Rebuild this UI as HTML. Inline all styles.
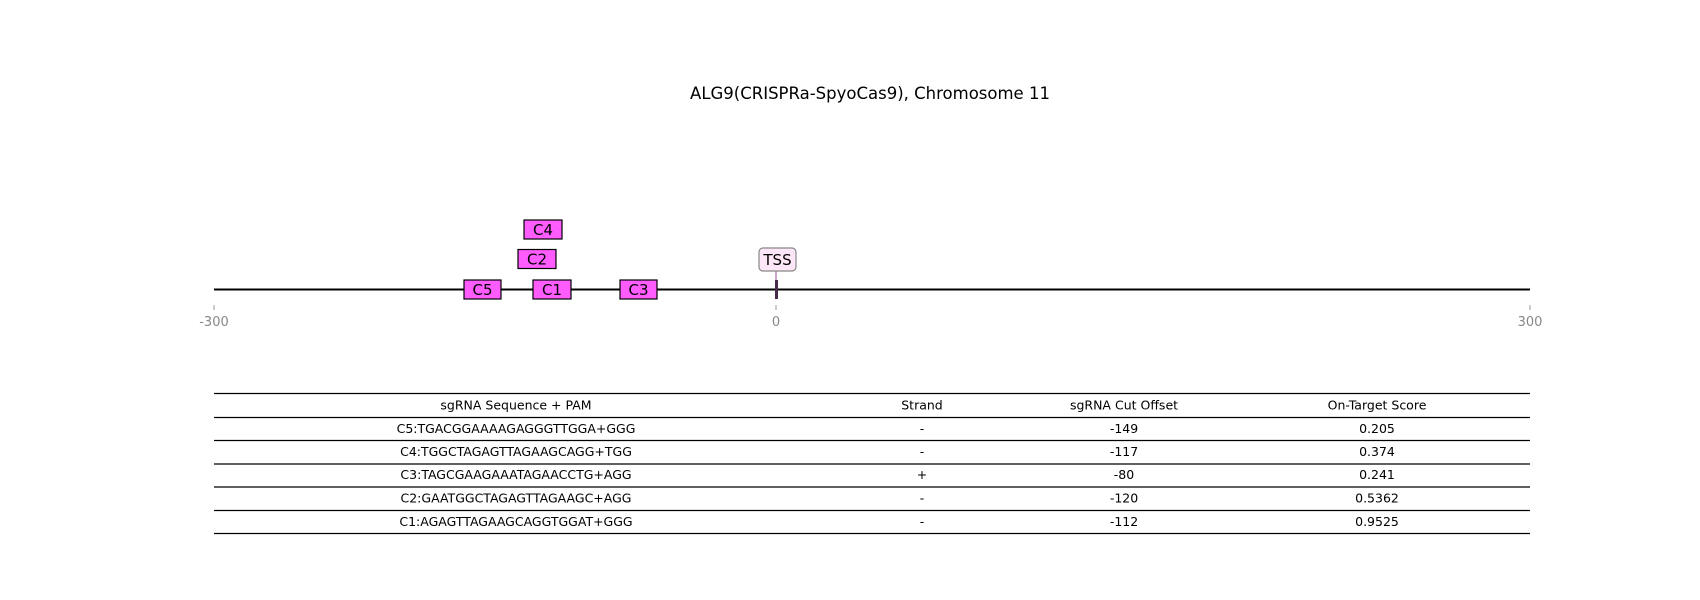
<!DOCTYPE html>
<html><head><meta charset="utf-8"><style>body{margin:0;background:#fff}svg{display:block}</style></head>
<body>
<svg width="1700" height="600" xmlns="http://www.w3.org/2000/svg" font-family="DejaVu Sans, Liberation Sans, sans-serif">
<text x="870" y="99" font-size="16.5" text-anchor="middle">ALG9(CRISPRa-SpyoCas9), Chromosome 11</text>
<line x1="214" y1="289.5" x2="1530" y2="289.5" stroke="#000" stroke-width="2"/>
<g stroke="#999" stroke-width="1"><line x1="214" y1="305" x2="214" y2="310"/><line x1="776" y1="305" x2="776" y2="310"/><line x1="1530" y1="305" x2="1530" y2="310"/></g>
<g fill="#888" font-size="13" text-anchor="middle"><text x="214" y="326">-300</text><text x="776" y="326">0</text><text x="1530" y="326">300</text></g>
<line x1="776" y1="271" x2="776" y2="282" stroke="#9b4f96" stroke-width="1"/>
<rect x="775" y="280" width="3" height="19" fill="#4a2a4a"/>
<rect x="759" y="248" width="37" height="23" rx="4" fill="#fde6f8" stroke="#888" stroke-width="1.2"/>
<text x="777.5" y="265" font-size="15" text-anchor="middle">TSS</text>
<g fill="#ff5cff" stroke="#000" stroke-width="1.2">
<rect x="464" y="280" width="37" height="19"/><rect x="533" y="280" width="38" height="19"/><rect x="620" y="280" width="37" height="19"/>
<rect x="518" y="249.5" width="38" height="19"/><rect x="524" y="220" width="38" height="19"/></g>
<g font-size="15" text-anchor="middle">
<text x="482.5" y="295">C5</text><text x="552" y="295">C1</text><text x="638.5" y="295">C3</text>
<text x="537" y="264.5">C2</text><text x="543" y="235">C4</text></g>
<g stroke="#000" stroke-width="1.3">
<line x1="214" y1="393.5" x2="1530" y2="393.5"/><line x1="214" y1="417.5" x2="1530" y2="417.5"/><line x1="214" y1="440.5" x2="1530" y2="440.5"/><line x1="214" y1="464" x2="1530" y2="464"/><line x1="214" y1="487" x2="1530" y2="487"/><line x1="214" y1="510.5" x2="1530" y2="510.5"/><line x1="214" y1="533.5" x2="1530" y2="533.5"/></g>
<g font-size="12.5" text-anchor="middle">
<text x="516" y="409.5">sgRNA Sequence + PAM</text><text x="922" y="409.5">Strand</text><text x="1124" y="409.5">sgRNA Cut Offset</text><text x="1377" y="409.5">On-Target Score</text>
<text x="516" y="433">C5:TGACGGAAAAGAGGGTTGGA+GGG</text><text x="922" y="433">-</text><text x="1124" y="433">-149</text><text x="1377" y="433">0.205</text>
<text x="516" y="456">C4:TGGCTAGAGTTAGAAGCAGG+TGG</text><text x="922" y="456">-</text><text x="1124" y="456">-117</text><text x="1377" y="456">0.374</text>
<text x="516" y="479">C3:TAGCGAAGAAATAGAACCTG+AGG</text><text x="922" y="479">+</text><text x="1124" y="479">-80</text><text x="1377" y="479">0.241</text>
<text x="516" y="502.5">C2:GAATGGCTAGAGTTAGAAGC+AGG</text><text x="922" y="502.5">-</text><text x="1124" y="502.5">-120</text><text x="1377" y="502.5">0.5362</text>
<text x="516" y="526">C1:AGAGTTAGAAGCAGGTGGAT+GGG</text><text x="922" y="526">-</text><text x="1124" y="526">-112</text><text x="1377" y="526">0.9525</text>
</g>
</svg>
</body></html>
